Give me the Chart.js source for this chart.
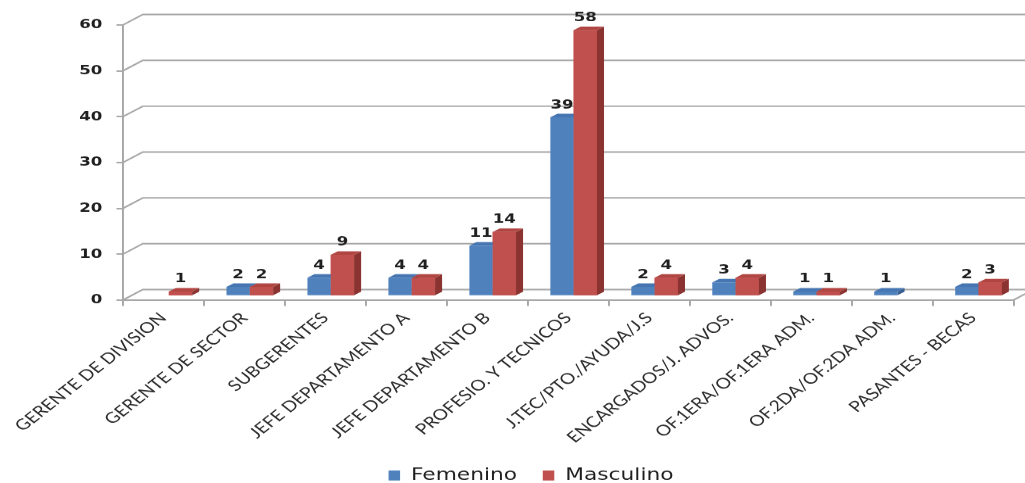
<!DOCTYPE html>
<html>
<head>
<meta charset="utf-8">
<title>Personal por categoría y sexo</title>
<script src="https://cdn.jsdelivr.net/npm/chart.js@4/dist/chart.umd.min.js"></script>
<style>
  html, body { margin: 0; padding: 0; background: #fff; overflow: hidden; }
  #wrap { position: absolute; left: 0; top: 0; width: 801px; height: 483px; transform-origin: 0 0; }
</style>
</head>
<body>
<div id="wrap"><canvas id="c" width="801" height="483"></canvas></div>
<script>
// ---- data ----
const categories = [
  'GERENTE DE DIVISION',
  'GERENTE DE SECTOR',
  'SUBGERENTES',
  'JEFE DEPARTAMENTO A',
  'JEFE DEPARTAMENTO B',
  'PROFESIO. Y TECNICOS',
  'J.TEC/PTO./AYUDA/J.S',
  'ENCARGADOS/J. ADVOS.',
  'OF.1ERA/OF.1ERA ADM.',
  'OF.2DA/OF.2DA ADM.',
  'PASANTES - BECAS'
];
const seriesNames = ['Femenino', 'Masculino'];
const femenino  = [null, 2, 4, 4, 11, 39, 2, 3, 1, 1, 2];
const masculino = [1, 2, 9, 4, 14, 58, 4, 4, 1, null, 3];
const yTicks = [0, 10, 20, 30, 40, 50, 60];

// ---- look ----
// The chart is laid out on a narrower canvas and widened horizontally,
// which gives the wide lettering and the flattened 45° labels.
const STRETCH = 1025 / 801;
document.getElementById('wrap').style.transform = 'scaleX(' + STRETCH + ')';

const GRID = '#a6a6a6';
const TEXT = '#1f1f1f';
const WALL = { dx: 15.6, dy: -10.5 };      // depth of the back wall
const BAR_SHIFT = { dx: 4.3, dy: -4 };     // bars stand slightly inside the floor
const BAR_DEPTH = { dx: 5.5, dy: -3.5 };   // extrusion of each bar
const PAD_BOTTOM = -11;
const FRONT = ['#4f81bd', '#c0504d'];
const FACES = [
  { top: '#4676b2', side: '#385f8f' },
  { top: '#b04542', side: '#8a3331' }
];
const valueFont = 'bold 13px "DejaVu Sans"';

// Back wall, floor edge, bar extrusions and value labels
const box3d = {
  id: 'box3d',
  beforeDatasetsDraw(chart) {
    const { ctx, chartArea: a, scales: { y } } = chart;
    ctx.save();
    ctx.strokeStyle = GRID;
    ctx.lineWidth = 1.5;
    ctx.beginPath();
    yTicks.forEach(v => {
      const py = y.getPixelForValue(v);
      ctx.moveTo(a.left, py);
      ctx.lineTo(a.left + WALL.dx, py + WALL.dy);
      ctx.lineTo(a.right + WALL.dx, py + WALL.dy);
    });
    ctx.moveTo(a.right, a.bottom);
    ctx.lineTo(a.right + WALL.dx, a.bottom + WALL.dy);
    ctx.stroke();
    ctx.restore();

    ctx.save();
    ctx.translate(BAR_SHIFT.dx, BAR_SHIFT.dy);
  },
  afterDatasetsDraw(chart) {
    const { ctx } = chart;
    const { dx, dy } = BAR_DEPTH;
    // extrude series left to right so each bar sits in front of its left neighbour
    chart.data.datasets.forEach((ds, di) => {
      const f = FACES[di];
      chart.getDatasetMeta(di).data.forEach((bar, i) => {
        if (!ds.data[i]) return;
        if (di > 0) bar.draw(ctx);
        const { x, y, base, width } = bar.getProps(['x', 'y', 'base', 'width'], true);
        const l = x - width / 2, r = x + width / 2;
        ctx.fillStyle = f.side;
        ctx.beginPath();
        ctx.moveTo(r, y);
        ctx.lineTo(r + dx, y + dy);
        ctx.lineTo(r + dx, base + dy);
        ctx.lineTo(r, base);
        ctx.closePath();
        ctx.fill();
        ctx.fillStyle = f.top;
        ctx.beginPath();
        ctx.moveTo(l, y);
        ctx.lineTo(l + dx, y + dy);
        ctx.lineTo(r + dx, y + dy);
        ctx.lineTo(r, y);
        ctx.closePath();
        ctx.fill();
      });
    });
    ctx.restore();

    // value labels above each bar
    ctx.save();
    ctx.font = valueFont;
    ctx.fillStyle = TEXT;
    ctx.textAlign = 'center';
    ctx.textBaseline = 'alphabetic';
    chart.data.datasets.forEach((ds, di) => {
      chart.getDatasetMeta(di).data.forEach((bar, i) => {
        const v = ds.data[i];
        if (!v) return;
        const { x, y } = bar.getProps(['x', 'y'], true);
        ctx.fillText(String(v), x + BAR_SHIFT.dx, y + BAR_SHIFT.dy - 9);
      });
    });
    ctx.restore();
  }
};

new Chart(document.getElementById('c'), {
  type: 'bar',
  data: {
    labels: categories,
    datasets: [
      { label: seriesNames[0], data: femenino, backgroundColor: FRONT[0], borderWidth: 0 },
      { label: seriesNames[1], data: masculino, backgroundColor: FRONT[1], borderWidth: 0 }
    ]
  },
  options: {
    responsive: false,
    animation: false,
    devicePixelRatio: STRETCH,
    categoryPercentage: 0.576,
    barPercentage: 1,
    layout: { autoPadding: false, padding: { left: 38, right: 9, top: 25, bottom: PAD_BOTTOM } },
    plugins: {
      tooltip: { enabled: false },
      legend: {
        position: 'bottom',
        labels: {
          boxWidth: 9,
          boxHeight: 10,
          padding: 20,
          color: TEXT,
          font: { family: '"DejaVu Sans"', size: 17 }
        }
      }
    },
    scales: {
      x: {
        grid: { drawOnChartArea: false, color: GRID, lineWidth: 1.5, tickLength: 6 },
        border: { color: GRID, width: 1.5 },
        ticks: {
          autoSkip: false,
          minRotation: 45,
          maxRotation: 45,
          padding: 3,
          color: '#2b2b2b',
          font: { family: 'Lato', size: 15 }
        },
        afterFit(scale) {
          const legendH = scale.chart.legend ? scale.chart.legend.height : 0;
          scale.height = scale.chart.height - 300 - legendH - PAD_BOTTOM;
        }
      },
      y: {
        min: yTicks[0],
        max: yTicks[yTicks.length - 1],
        grid: { drawOnChartArea: false, color: GRID, lineWidth: 1.5, tickLength: 5 },
        border: { color: GRID, width: 1.5 },
        ticks: {
          stepSize: yTicks[1] - yTicks[0],
          padding: 11,
          color: TEXT,
          font: { family: '"DejaVu Sans"', size: 13, weight: 'bold' }
        },
        afterFit(scale) { scale.width = 58; }
      }
    }
  },
  plugins: [box3d]
});
</script>
</body>
</html>
